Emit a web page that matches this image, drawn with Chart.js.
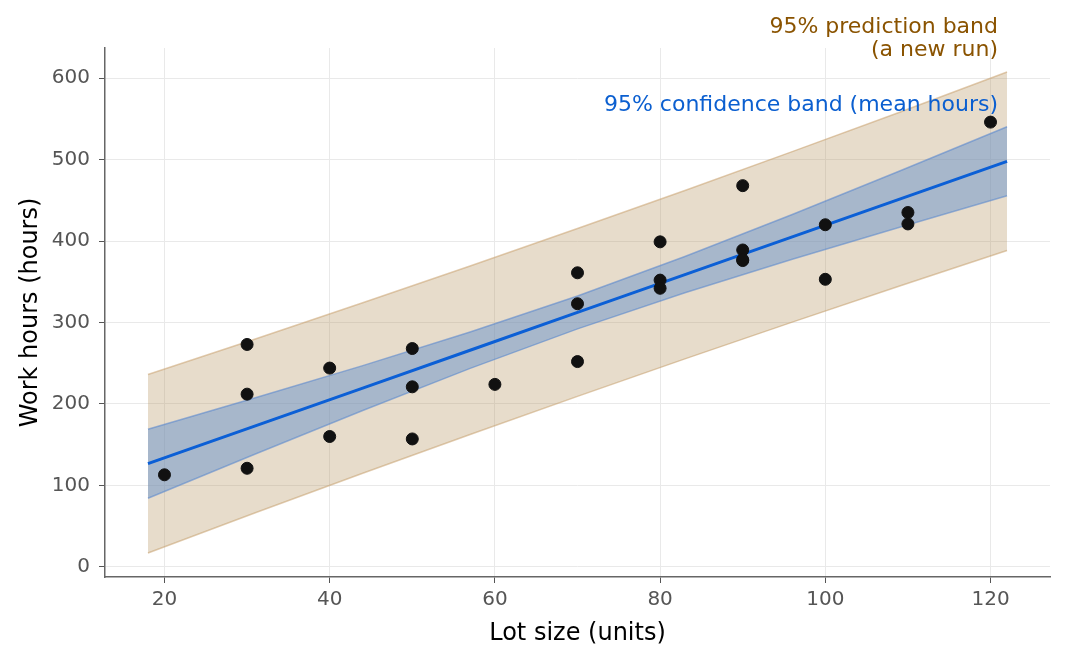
<!DOCTYPE html>
<html>
<head>
<meta charset="utf-8">
<script src="https://cdn.jsdelivr.net/npm/chart.js@4/dist/chart.umd.min.js"></script>
<style>
  html, body { margin: 0; padding: 0; background: #fff; }
  #wrap { width: 1068px; height: 662px; }
</style>
</head>
<body>
<div id="wrap"><canvas id="regChart" width="1068" height="662"></canvas></div>
<script>
// observed runs
const lotSize = [80, 30, 50, 90, 70, 60, 120, 80, 100, 50, 40, 70, 90, 20, 110, 100, 30, 50, 90, 110, 30, 90, 40, 80, 70];
const workHours = [399, 121, 221, 376, 361, 224, 546, 352, 353, 157, 160, 252, 389, 113, 435, 420, 212, 268, 377, 421, 273, 468, 244, 342, 323];

// fitted line and bands, read at these lot sizes
const bandX = [18, 31, 44, 57, 70, 83, 96, 109, 122];
const fitHours = [126.6, 173.0, 219.5, 265.9, 312.3, 358.7, 405.1, 451.5, 497.9];
const confLower = [84.2, 138.5, 192.0, 243.6, 292.1, 336.4, 377.6, 417.0, 455.5];
const confUpper = [169.0, 207.5, 247.0, 288.2, 332.5, 381.0, 432.6, 486.0, 540.3];
const predLower = [17.0, 66.3, 114.8, 162.5, 209.3, 255.3, 300.4, 344.8, 388.3];
const predUpper = [236.2, 279.7, 324.2, 369.3, 415.3, 462.1, 509.8, 558.2, 607.5];

const xTicks = [20, 40, 60, 80, 100, 120];
const yTicks = [0, 100, 200, 300, 400, 500, 600];

const toPts = (xs, ys) => xs.map((x, i) => ({ x: x, y: ys[i] }));

const bandLine = (data, color) => ({
  type: 'line',
  data: data,
  borderColor: color,
  borderWidth: 1.5,
  pointRadius: 0,
  tension: 0,
});

// text labels for the two bands
const bandLabels = {
  id: 'bandLabels',
  afterDatasetsDraw(chart) {
    const ctx = chart.ctx;
    const right = chart.chartArea.right - 52;
    ctx.save();
    ctx.font = '22px "DejaVu Sans"';
    ctx.textAlign = 'right';
    ctx.textBaseline = 'middle';
    ctx.fillStyle = '#8a5300';
    ctx.fillText('95% prediction band', right, 27);
    ctx.fillText('(a new run)', right, 50);
    ctx.fillStyle = '#0b5fd0';
    ctx.fillText('95% confidence band (mean hours)', right, 105);
    ctx.restore();
  },
};

const ctx = document.getElementById('regChart').getContext('2d');
new Chart(ctx, {
  type: 'scatter',
  data: {
    datasets: [
      {
        label: 'Runs',
        data: toPts(lotSize, workHours),
        backgroundColor: '#111111',
        borderColor: '#111111',
        pointRadius: 6,
        order: 0,
      },
      {
        ...bandLine(toPts(bandX, fitHours), '#0b5fd6'),
        borderWidth: 3,
        order: 1,
      },
      {
        ...bandLine(toPts(bandX, confUpper), 'rgba(80,130,205,0.55)'),
        fill: '+1',
        backgroundColor: 'rgba(90,140,203,0.45)',
        order: 2,
      },
      {
        ...bandLine(toPts(bandX, confLower), 'rgba(80,130,205,0.55)'),
        order: 2,
      },
      {
        ...bandLine(toPts(bandX, predUpper), 'rgba(200,160,110,0.55)'),
        fill: '+1',
        backgroundColor: 'rgba(186,155,106,0.35)',
        order: 3,
      },
      {
        ...bandLine(toPts(bandX, predLower), 'rgba(200,160,110,0.55)'),
        order: 3,
      },
    ],
  },
  options: {
    responsive: false,
    animation: false,
    layout: { padding: { top: 48, right: 18, left: 0, bottom: 0 } },
    plugins: {
      legend: { display: false },
      tooltip: { enabled: false },
    },
    scales: {
      x: {
        type: 'linear',
        min: 12.8,
        max: 127.2,
        afterFit: (s) => { s.height = 85; },
        afterBuildTicks: (s) => { s.ticks = xTicks.map((v) => ({ value: v })); },
        grid: { color: '#e9e9e9', lineWidth: 1, tickColor: '#555', tickLength: 6 },
        border: { color: '#666', width: 1.5 },
        ticks: { font: { family: 'DejaVu Sans', size: 20 }, color: '#555', padding: 5 },
        title: {
          display: true,
          text: 'Lot size (units)',
          color: '#000',
          font: { family: 'DejaVu Sans', size: 24 },
          padding: { top: 0, bottom: 14 },
        },
      },
      y: {
        min: -12.5,
        max: 637,
        afterFit: (s) => { s.width = 105; },
        afterBuildTicks: (s) => { s.ticks = yTicks.map((v) => ({ value: v })); },
        grid: { color: '#e9e9e9', lineWidth: 1, tickColor: '#555', tickLength: 6 },
        border: { color: '#666', width: 1.5 },
        ticks: { font: { family: 'DejaVu Sans', size: 20 }, color: '#555', padding: 9 },
        title: {
          display: true,
          text: 'Work hours (hours)',
          color: '#000',
          font: { family: 'DejaVu Sans', size: 24 },
          padding: { top: 16, bottom: 0 },
        },
      },
    },
  },
  plugins: [bandLabels],
});
</script>
</body>
</html>
